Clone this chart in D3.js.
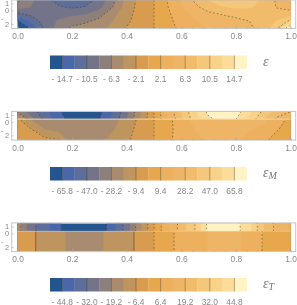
<!DOCTYPE html>
<html lang="en">
<head>
<meta charset="UTF-8">
<title>Contours</title>
<script src="https://d3js.org/d3.v7.min.js"></script>
<style>
    body { margin: 0; background: #fff; overflow: hidden; }
    svg { display: block; filter: blur(0.35px); }
    text { font-family: "Liberation Sans", sans-serif; font-size: 8.4px; fill: #888; }
    .sym { font-family: "Liberation Serif", serif; font-style: italic; fill: #777; }
    .axis line { stroke: #aaa; stroke-width: 0.6; }
    .axis path { display: none; }
</style>
</head>
<body>
<svg width="297" height="305"></svg>
<script>
const binColors = ["#25558f", "#4a68a9", "#5e6e9a", "#737389", "#8d7f7b", "#a98c70", "#bf955f", "#d89c50",
    "#e7a74c", "#ecb05e", "#efb566", "#f1bb6c", "#f5c77a", "#f9d187", "#fcdc98", "#fff3c4"];
const xGrid = [0, .05, .1, .15, .2, .25, .3, .35, .4, .45, .5, .55, .6, .65, .7, .75, .8, .85, .9, .95, 1];
const xTicks = [0, .2, .4, .6, .8, 1];
const xMinor = d3.range(0, 1.001, .04);
const yTicks = [1, 0, -2];

// tick labels of the three colour bars
const epsLabels = ["-14.7", "-10.5", "-6.3", "-2.1", "2.1", "6.3", "10.5", "14.7"];
const epsMLabels = ["-65.8", "-47.0", "-28.2", "-9.4", "9.4", "28.2", "47.0", "65.8"];
const epsTLabels = ["-44.8", "-32.0", "-19.2", "-6.4", "6.4", "19.2", "32.0", "44.8"];

// epsilon, rows from top to bottom
const epsRowsY = [1.45, .4, -.6, -1.6, -2.6];
const epsGrid = [
    [-6, -8, -9.8, -11.2, -12, -11.5, -9.6, -6.8, -3.4, -1.4, 0, 2.2, 4.4, 6.6, 8.4, 9.6, 10, 9.5, 8, 6, 4.4],
    [-7.5, -8.5, -9.4, -10.2, -10.7, -10.3, -9, -6.2, -3.2, -1.3, 0, 2, 4, 5.8, 7.2, 8.2, 8.6, 8.6, 7.6, 6.2, 5.4],
    [-11, -10, -9.2, -9, -8.8, -8.4, -7, -4.8, -2.8, -1.2, 0, 1.7, 3.4, 4.8, 5.8, 6.4, 6.8, 7, 7, 7.2, 7.5],
    [-15, -12, -9.4, -8.2, -7.2, -6.6, -5.8, -4.2, -2.5, -1.1, 0, 1.5, 3, 4, 4.8, 5.4, 5.8, 6.3, 7, 8.5, 11],
    [-19, -14, -10.2, -7.4, -6, -5.6, -5, -3.6, -2, -1, 0, 1.3, 2.6, 3.6, 4.4, 5, 5.5, 6, 7, 10, 17]
];

// epsilon_M, upper strip and lower part
const epsMTopY = [1.45, .4];
const epsMTop = [
    [-30, -42, -53, -64, -72, -73, -68, -56, -40, -20, 0, 20, 38, 55, 68, 72, 70, 58, 45, 34, 28],
    [-12, -34, -50, -62, -70, -71, -66, -54, -38, -18, 0, 18, 36, 52, 64, 69, 66, 54, 38, 26, 18]
];
const epsMLowY = [.4, -1.1, -2.6];
const epsMLow = [
    [-8, -20, -22, -24, -25, -25, -24, -22, -15, -7, 0, 7, 14, 22, 24, 25, 25, 24, 22, 14, 7],
    [-5, -9, -19, -22, -24, -25, -23, -19.5, -13, -6, 0, 7, 13, 19, 23, 25, 24, 20, 16, 10, 6],
    [-3, -5, -7, -9.3, -26, -25, -22, -16, -11, -5, 0, 8, 12, 16, 21, 24, 21, 15, 11, 7, 4]
];

// epsilon_T, upper strip and lower part
const epsTTopY = [1.45, .3];
const epsTTopRow = [-16, -30, -36, -43, -52, -53, -50, -40, -29, -14, 0, 12, 22, 32, 47, 50, 47, 40, 26, 17, 12];
const epsTLowY = [.3, -2.6];
const epsTLowRow = [-4, -5.6, -8, -11.5, -14, -16, -14, -10, -8, -5, 0, 5, 8, 11, 13, 15, 14, 11, 6, 5, 4];

const panels = [
    { step: 2.1, labels: epsLabels, plotTop: .5, barTop: 55.5, sym: "ε", sub: "", blocks: [{ ys: epsRowsY, grid: epsGrid }] },
    { step: 9.4, labels: epsMLabels, plotTop: 112, barTop: 167, sym: "ε", sub: "M", seam: .4,
      blocks: [{ ys: epsMTopY, grid: epsMTop }, { ys: epsMLowY, grid: epsMLow }] },
    { step: 6.4, labels: epsTLabels, plotTop: 223.5, barTop: 278, sym: "ε", sub: "T", seam: .3,
      blocks: [{ ys: epsTTopY, grid: [epsTTopRow, epsTTopRow] }, { ys: epsTLowY, grid: [epsTLowRow, epsTLowRow], solid: 7 }] }
];

const svg = d3.select("svg");
const x = d3.scaleLinear().domain([0, 1]).range([17.5, 290.5]);
const barX = d3.scaleLinear().domain([0, 16]).range([50, 246.7]);

panels.forEach((p, i) => {
    const y = d3.scaleLinear().domain([1.45, -2.6]).range([p.plotTop, p.plotTop + 27.5]);
    const g = svg.append("g");
    const clipId = "clip" + i;

    // bin edges: one below everything, then -7..7 steps
    const edges = d3.range(-7, 8).map(k => k * p.step);
    const thresholds = [-1e4].concat(edges);

    p.blocks.forEach(b => {
        const rows = b.grid.length;
        const top = y(b.ys[0]), bottom = y(b.ys[rows - 1]);
        const blockClip = clipId + "b" + p.blocks.indexOf(b);
        g.append("clipPath").attr("id", blockClip).append("rect")
            .attr("x", x(0)).attr("width", x(1) - x(0))
            .attr("y", top).attr("height", bottom - top);

        const values = b.grid.flat();
        const gx = d3.scaleLinear().domain([.5, xGrid.length - .5]).range([x(0), x(1)]);
        const gy = d3.scaleLinear().domain([.5, rows - .5]).range([top, bottom]);
        const path = d3.geoPath(d3.geoTransform({
            point(a, c) { this.stream.point(gx(a), gy(c)); }
        }));
        const contours = d3.contours().size([xGrid.length, rows]).thresholds(thresholds)(values);
        const layer = g.append("g").attr("clip-path", `url(#${blockClip})`);

        layer.selectAll("path.fill").data(contours).enter().append("path")
            .attr("class", "fill")
            .attr("d", path)
            .attr("fill", (d, k) => binColors[k])
            .attr("stroke", (d, k) => binColors[k])
            .attr("stroke-width", 0.3);

        // dashed lines on the labelled levels and on zero
        const lined = contours.map((d, k) => ({ d, k })).filter(c => c.k > 0 && (c.k - 1) % 2 === 0 || c.k === 8);
        layer.selectAll("path.line").data(lined)
            .enter().append("path")
            .attr("class", "line")
            .attr("d", c => path(c.d))
            .attr("fill", "none")
            .attr("stroke", "#3a3020")
            .attr("stroke-opacity", .65)
            .attr("stroke-width", .8)
            .attr("stroke-dasharray", c => c.k === b.solid ? null : "1.6 2.2");
    });

    if (p.seam !== undefined) {
        g.append("line")
            .attr("x1", x(0)).attr("x2", x(1))
            .attr("y1", y(p.seam)).attr("y2", y(p.seam))
            .attr("stroke", "#f0dcb4").attr("stroke-width", i === 1 ? 1 : .5);
    }

    // frame
    const frameB = y(-2.6) + .6;
    g.append("rect")
        .attr("x", 11.7).attr("y", y(1.45) - .6)
        .attr("width", 284).attr("height", frameB - y(1.45) + .6)
        .attr("fill", "none").attr("stroke", "#c4c4c4").attr("stroke-width", 1);

    // axes
    g.append("g").attr("class", "axis")
        .attr("transform", `translate(0,${frameB})`)
        .call(d3.axisBottom(x).tickValues(xMinor).tickSize(-1.5).tickFormat(""));
    const xAxis = g.append("g").attr("class", "axis")
        .attr("transform", `translate(0,${frameB})`)
        .call(d3.axisBottom(x).tickValues(xTicks).tickSize(-2.5).tickPadding(4.5).tickFormat(d3.format(".1f")));
    xAxis.selectAll("text").style("font-size", "8.4px").style("font-family", "Liberation Sans").attr("fill", "#888");

    const yAxis = g.append("g").attr("class", "axis")
        .attr("transform", "translate(11.7,0)")
        .call(d3.axisLeft(y).tickValues(yTicks).tickSize(-2).tickPadding(2.5).tickFormat(d => Math.abs(d)));
    yAxis.selectAll("text").style("font-size", "7.4px").style("font-family", "Liberation Sans").attr("fill", "#888");
    // the minus of -2 sits a little above and left of the digit
    g.append("text").attr("x", 1).attr("y", y(-2) - 2.5).style("font-size", "7.4px").text("-");

    // colour bar
    const bar = g.append("g");
    bar.selectAll("rect").data(binColors).enter().append("rect")
        .attr("x", (d, k) => barX(k))
        .attr("width", barX(1) - barX(0) + .2)
        .attr("y", p.barTop).attr("height", 13.5)
        .attr("fill", d => d);
    bar.selectAll("line").data(p.labels).enter().append("line")
        .attr("x1", (d, k) => barX(1 + 2 * k)).attr("x2", (d, k) => barX(1 + 2 * k))
        .attr("y1", p.barTop).attr("y2", p.barTop + 13.5)
        .attr("stroke", "#3a3020").attr("stroke-opacity", .55).attr("stroke-width", .7);
    bar.selectAll("text").data(p.labels).enter().append("text")
        .attr("x", (d, k) => barX(1 + 2 * k))
        .attr("y", p.barTop + 26.5)
        .attr("text-anchor", "middle")
        .text(d => d.replace("-", "- "));

    // symbol
    const sym = g.append("text").attr("class", "sym")
        .attr("x", 263).attr("y", p.barTop + 10).style("font-size", "14px").text(p.sym);
    if (p.sub) {
        sym.append("tspan").attr("dy", 2).style("font-size", "10px").text(p.sub);
    }
});
</script>
</body>
</html>
